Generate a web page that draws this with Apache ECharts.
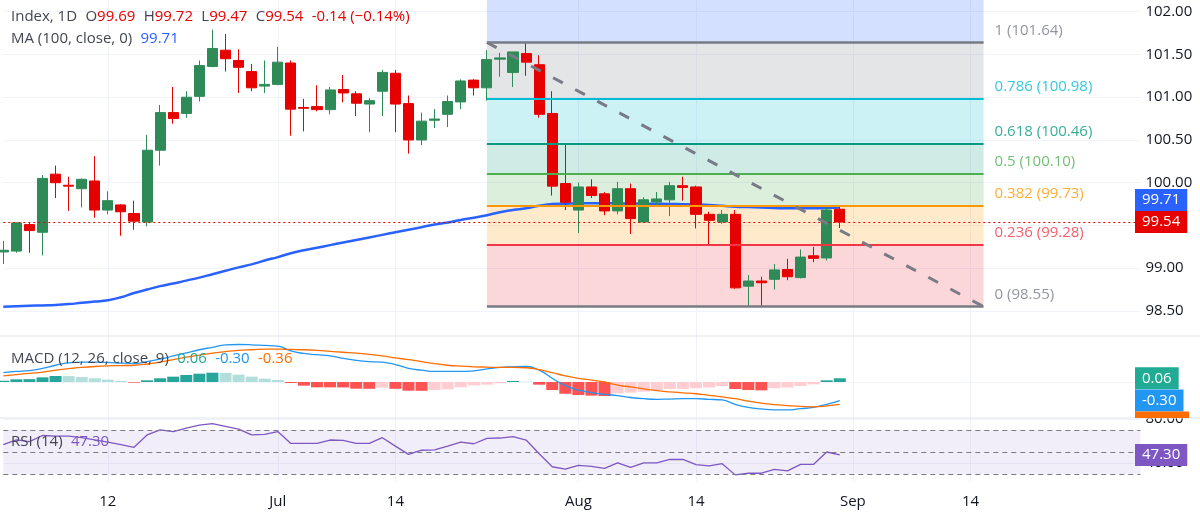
<!DOCTYPE html>
<html>
<head>
<meta charset="utf-8">
<title>Index, 1D</title>
<script src="https://cdn.jsdelivr.net/npm/echarts@6.0.0/dist/echarts.min.js"></script>
<style>
  html, body { margin: 0; padding: 0; background: #fff; }
  #chart { width: 1200px; height: 519px; }
</style>
</head>
<body>
<div id="chart"></div>
<script>
// Daily candles (one entry per bar, oldest first)
const opens = [99.19, 99.20, 99.51, 99.42, 100.10, 99.97, 99.93, 100.02, 99.68, 99.74,
  99.64, 99.54, 100.38, 100.82, 100.81, 101.01, 101.36, 101.55, 101.43, 101.30,
  101.13, 101.15, 101.40, 100.88, 100.89, 100.855, 101.09, 101.04, 100.92, 101.07,
  101.28, 100.925, 100.50, 100.73, 100.80, 100.945, 101.20, 101.11, 101.445, 101.29,
  101.51, 101.38, 100.81, 99.99, 99.68, 99.95, 99.87, 99.67, 99.93, 99.54,
  99.775, 99.80, 99.965, 99.95, 99.63, 99.54, 99.63, 98.79, 98.85, 98.87,
  98.985, 98.89, 99.145, 99.12, 99.69];
const closes = [99.21, 99.53, 99.44, 100.05, 100.00, 99.96, 100.04, 99.68, 99.79, 99.66,
  99.55, 100.38, 100.82, 100.75, 101.00, 101.37, 101.57, 101.45, 101.35, 101.11,
  101.15, 101.41, 100.86, 100.87, 100.855, 101.085, 101.05, 100.93, 100.96, 101.29,
  100.92, 100.50, 100.72, 100.745, 100.95, 101.19, 101.11, 101.44, 101.46, 101.53,
  101.41, 100.80, 99.96, 99.77, 99.95, 99.85, 99.67, 99.93, 99.58, 99.80,
  99.81, 99.965, 99.945, 99.63, 99.56, 99.63, 98.77, 98.85, 98.83, 98.98,
  98.90, 99.13, 99.115, 99.68, 99.54];
const lows = [99.05, 99.18, 99.18, 99.15, 99.82, 99.67, 99.71, 99.59, 99.63, 99.38,
  99.45, 99.49, 100.20, 100.69, 100.76, 100.95, 101.35, 101.30, 101.05, 101.07,
  101.05, 101.14, 100.55, 100.60, 100.835, 100.80, 100.94, 100.78, 100.59, 100.78,
  100.59, 100.34, 100.44, 100.64, 100.65, 100.86, 101.02, 100.96, 101.24, 101.12,
  101.25, 100.76, 99.85, 99.68, 99.41, 99.82, 99.62, 99.63, 99.40, 99.54,
  99.72, 99.61, 99.79, 99.465, 99.28, 99.52, 98.76, 98.55, 98.55, 98.75,
  98.86, 98.88, 99.07, 99.09, 99.47];
const highs = [99.32, 99.54, 99.54, 100.09, 100.20, 100.07, 100.05, 100.31, 99.90, 99.75,
  99.79, 100.56, 100.91, 101.12, 101.07, 101.43, 101.79, 101.74, 101.56, 101.39,
  101.43, 101.59, 101.43, 100.98, 101.14, 101.12, 101.26, 101.07, 100.99, 101.32,
  101.32, 101.02, 100.82, 100.86, 101.02, 101.21, 101.21, 101.55, 101.52, 101.53,
  101.64, 101.49, 101.07, 100.445, 100.00, 100.04, 99.89, 100.01, 99.99, 99.83,
  99.89, 100.01, 100.07, 99.965, 99.66, 99.68, 99.68, 98.92, 98.90, 99.05,
  99.11, 99.22, 99.25, 99.72, 99.72];
const ma100 = [98.55, 98.555, 98.56, 98.565, 98.57, 98.58, 98.595, 98.61, 98.625, 98.66,
  98.71, 98.75, 98.79, 98.82, 98.855, 98.89, 98.93, 98.97, 99.01, 99.045,
  99.09, 99.13, 99.175, 99.21, 99.24, 99.27, 99.30, 99.33, 99.36, 99.39,
  99.42, 99.45, 99.48, 99.51, 99.535, 99.565, 99.59, 99.62, 99.655, 99.68,
  99.70, 99.73, 99.75, 99.755, 99.76, 99.76, 99.76, 99.758, 99.757, 99.755,
  99.754, 99.752, 99.748, 99.745, 99.74, 99.73, 99.72, 99.715, 99.71, 99.705,
  99.70, 99.70, 99.70, 99.705, 99.71];

// MACD (12, 26, close, 9)
const macdLine = [0.15, 0.17, 0.185, 0.22, 0.27, 0.31, 0.32, 0.32, 0.315, 0.305,
  0.30, 0.33, 0.37, 0.42, 0.47, 0.52, 0.56, 0.60, 0.605, 0.60,
  0.59, 0.58, 0.50, 0.46, 0.44, 0.42, 0.38, 0.35, 0.33, 0.32,
  0.28, 0.22, 0.19, 0.17, 0.17, 0.17, 0.18, 0.21, 0.235, 0.245,
  0.25, 0.19, 0.06, -0.06, -0.13, -0.17, -0.20, -0.22, -0.25, -0.27,
  -0.28, -0.275, -0.27, -0.27, -0.28, -0.29, -0.36, -0.41, -0.435, -0.45,
  -0.45, -0.43, -0.41, -0.36, -0.30];
const signalLine = [0.10, 0.12, 0.14, 0.16, 0.19, 0.215, 0.235, 0.25, 0.26, 0.265,
  0.27, 0.29, 0.32, 0.36, 0.40, 0.435, 0.465, 0.49, 0.51, 0.52,
  0.53, 0.53, 0.525, 0.52, 0.51, 0.495, 0.48, 0.465, 0.445, 0.42,
  0.39, 0.36, 0.33, 0.295, 0.27, 0.255, 0.245, 0.24, 0.235, 0.235,
  0.23, 0.20, 0.15, 0.10, 0.06, 0.03, 0.0, -0.05, -0.08, -0.11,
  -0.14, -0.16, -0.175, -0.19, -0.215, -0.24, -0.27, -0.31, -0.34, -0.365,
  -0.38, -0.395, -0.40, -0.385, -0.36];
const macdHist = [0.02, 0.043, 0.046, 0.075, 0.097, 0.095, 0.08, 0.06, 0.038, 0.016,
  -0.011, 0.027, 0.06, 0.086, 0.113, 0.134, 0.15, 0.148, 0.118, 0.086,
  0.054, 0.032, -0.016, -0.059, -0.086, -0.087, -0.088, -0.108, -0.11, -0.092,
  -0.11, -0.14, -0.142, -0.13, -0.118, -0.086, -0.054, -0.043, -0.02, 0.016,
  0.005, -0.043, -0.13, -0.19, -0.21, -0.22, -0.226, -0.183, -0.172, -0.156,
  -0.13, -0.113, -0.112, -0.10, -0.09, -0.065, -0.113, -0.13, -0.135, -0.10,
  -0.09, -0.065, -0.038, 0.027, 0.06];

// RSI (14)
const rsi14 = [56.8, 61, 59.5, 65, 64.5, 64.5, 63, 61, 59, 56.8,
  54.3, 65.5, 70.2, 68.6, 71.7, 74.5, 75.8, 73.3, 70.8, 65.5,
  66.1, 68.6, 57.8, 57.8, 57.8, 60.9, 60.6, 57.8, 57.8, 63,
  55.3, 47.8, 51.6, 51.9, 55.3, 59, 57.5, 62.4, 62.7, 64,
  60.9, 48.4, 36.6, 34.5, 37.9, 37, 35.1, 40.1, 36, 40.1,
  40.1, 43.2, 43.2, 38.5, 37.3, 39.4, 29.2, 30.7, 30.7, 34.2,
  32.9, 38.8, 38.8, 50, 47.3];

// Fibonacci retracement drawn from the swing high to the swing low
const fibLevels = [1, 0.786, 0.618, 0.5, 0.382, 0.236, 0];
const fibPrices = [101.64, 100.98, 100.46, 100.10, 99.73, 99.28, 98.55];
const fibColors = ['#787b86', '#00bcd4', '#089981', '#4caf50', '#ff9800', '#f23645', '#787b86'];
const fibFills = ['rgba(120,123,134,0.2)', 'rgba(0,188,212,0.2)', 'rgba(8,153,129,0.2)',
  'rgba(76,175,80,0.2)', 'rgba(255,152,0,0.2)', 'rgba(242,54,69,0.2)'];
const fibTopFill = 'rgba(41,98,255,0.2)';
const fibStart = 37;
const fibEnd = 75;

const priceTicks = [98.5, 99, 99.5, 100, 100.5, 101, 101.5, 102];
const rsiTicks = [40, 80];
const rsiBands = [70, 50, 30];
const dateTickIdx = [8, 21, 30, 44, 53, 65, 74];
const dateTickLabels = ['12', 'Jul', '14', 'Aug', '14', 'Sep', '14'];
const barCount = 88;

const priceMin = 98.207, priceMax = 102.137;
const macdMin = -0.581, macdMax = 0.742;
const rsiMin = 22.73, rsiMax = 80.9;

const FONT = '"Open Sans", sans-serif';
const GREEN = '#2e8b57';
const RED = '#e60000';
const GRID = '#f0f3fa';
const TEXT = '#131722';
const LEGEND = '#434651';

const last = opens.length - 1;
const cats = Array.from({ length: barCount }, (_, i) => String(i));
const candles = opens.map((o, i) => [o, closes[i], lows[i], highs[i]]);
const change = closes[last] - closes[last - 1];
const changePct = change / closes[last - 1] * 100;

const histColor = (v, i) => {
  const prev = i > 0 ? macdHist[i - 1] : v;
  if (v >= 0) return v >= prev ? '#26a69a' : '#b2dfdb';
  return v < prev ? '#ff5252' : '#ffcdd2';
};

const gridX = { left: 3.3, width: 1137.1 };
const xAxisBase = (gridIndex, showLabels) => ({
  type: 'category', gridIndex, data: cats, boundaryGap: false,
  axisLine: { show: false }, axisTick: { show: false },
  axisLabel: {
    show: showLabels, interval: (i) => dateTickIdx.includes(i), margin: 12,
    color: TEXT, fontSize: 15, fontFamily: FONT,
    formatter: (v, i) => dateTickLabels[dateTickIdx.indexOf(i)] || ''
  },
  splitLine: { show: true, interval: (i) => dateTickIdx.includes(i), lineStyle: { color: GRID, width: 1 } }
});

const fibAreas = [[{ xAxis: fibStart, yAxis: fibPrices[0], itemStyle: { color: fibTopFill } },
  { xAxis: fibEnd, yAxis: priceMax }]];
fibFills.forEach((c, k) => {
  fibAreas.push([{ xAxis: fibStart, yAxis: fibPrices[k], itemStyle: { color: c } },
    { xAxis: fibEnd, yAxis: fibPrices[k + 1] }]);
});

const fibLines = fibPrices.map((p, k) => [
  { coord: [fibStart, p], lineStyle: { color: fibColors[k], width: (k === 0 || k === 6) ? 2.5 : 2, type: 'solid' } },
  { coord: [fibEnd, p] }
]);

const rich = (color) => ({ color, fontSize: 15, fontFamily: FONT, fontWeight: 'normal' });
const legendRich = {
  n: rich(LEGEND), r: rich(RED), b: rich('#2962ff'), t: rich('#22ab94'),
  m: rich('#2196f3'), o: rich('#ff6d00'), p: rich('#7e57c2')
};
const legendStyle = { fontWeight: 'normal', fontSize: 15, rich: legendRich };
const fmt = (v) => v.toFixed(2);
const signed = (v) => (v < 0 ? '-' : '') + Math.abs(v).toFixed(2);

const chart = echarts.init(document.getElementById('chart'));
chart.setOption({
  animation: false,
  backgroundColor: '#fff',
  title: [
    { left: 6, top: 4, textStyle: legendStyle,
      text: `{n|Index, 1D}  {n|O}{r|${fmt(opens[last])}}  {n|H}{r|${fmt(highs[last])}}  {n|L}{r|${fmt(lows[last])}}  {n|C}{r|${fmt(closes[last])}}  {r|${signed(change)} (\u2212${Math.abs(changePct).toFixed(2)}%)}` },
    { left: 6, top: 26, textStyle: legendStyle,
      text: `{n|MA (100, close, 0)}  {b|${fmt(ma100[last])}}` },
    { left: 6, top: 346, textStyle: legendStyle,
      text: `{n|MACD (12, 26, close, 9)}  {t|${fmt(macdHist[last])}}  {m|${signed(macdLine[last])}}  {o|${signed(signalLine[last])}}` },
    { left: 6, top: 429, textStyle: legendStyle,
      text: `{n|RSI (14)}  {p|${fmt(rsi14[last])}}` }
  ],
  grid: [
    Object.assign({ top: 0, height: 336 }, gridX),
    Object.assign({ top: 336, height: 82 }, gridX),
    Object.assign({ top: 418, height: 64 }, gridX)
  ],
  xAxis: [xAxisBase(0, false), xAxisBase(1, false), xAxisBase(2, true)],
  yAxis: [
    { type: 'value', gridIndex: 0, position: 'right', min: priceMin, max: priceMax, scale: true,
      axisLine: { show: false },
      axisTick: { show: false, customValues: priceTicks },
      axisLabel: { customValues: priceTicks, formatter: (v) => v.toFixed(2), margin: 5,
        color: TEXT, fontSize: 15, fontFamily: FONT },
      splitLine: { show: true, lineStyle: { color: GRID } } },
    { type: 'value', gridIndex: 1, position: 'right', min: macdMin, max: macdMax,
      axisLine: { show: false },
      axisTick: { show: false, customValues: [0] },
      axisLabel: { show: false, customValues: [0] },
      splitLine: { show: true, lineStyle: { color: GRID } } },
    { type: 'value', gridIndex: 2, position: 'right', min: rsiMin, max: rsiMax,
      axisLine: { show: false },
      axisTick: { show: false, customValues: rsiTicks },
      axisLabel: { customValues: rsiTicks, formatter: (v) => v.toFixed(2), margin: 5,
        color: TEXT, fontSize: 15, fontFamily: FONT },
      splitLine: { show: true, lineStyle: { color: GRID } } }
  ],
  series: [
    { // fib fills and level lines
      type: 'line', xAxisIndex: 0, yAxisIndex: 0, data: [], z: 1, silent: true,
      markArea: { silent: true, data: fibAreas },
      markLine: { silent: true, symbol: ['none', 'none'], label: { show: false }, data: fibLines }
    },
    { name: 'MA', type: 'line', xAxisIndex: 0, yAxisIndex: 0, data: ma100, z: 2,
      showSymbol: false, smooth: true, lineStyle: { color: '#2962ff', width: 2.5 } },
    { name: 'Index', type: 'candlestick', xAxisIndex: 0, yAxisIndex: 0, data: candles, z: 3,
      barWidth: 10.6, clip: false,
      itemStyle: { color: GREEN, color0: RED, borderColor: GREEN, borderColor0: RED, borderWidth: 1 },
      markLine: { silent: true, symbol: ['none', 'none'], label: { show: false },
        data: [{ yAxis: closes[last], lineStyle: { color: RED, type: [2, 3], width: 1 } }] } },
    { // trend line across the fib
      type: 'line', xAxisIndex: 0, yAxisIndex: 0, data: [], z: 4, silent: true,
      markLine: { silent: true, symbol: ['none', 'none'], label: { show: false },
        data: [[{ coord: [fibStart, fibPrices[0]], lineStyle: { color: '#787b86', width: 3, type: [11, 14] } },
          { coord: [fibEnd, fibPrices[fibPrices.length - 1]] }]] } },
    { // fib level labels
      type: 'scatter', xAxisIndex: 0, yAxisIndex: 0, symbolSize: 0, z: 5, silent: true,
      data: fibPrices.map((p, k) => ({
        value: [fibEnd, p],
        label: { show: true, position: 'right', distance: 11, offset: [0, -12],
          color: fibColors[k], fontSize: 15, fontFamily: FONT,
          formatter: `${fibLevels[k]} (${fmt(p)})` }
      })) },
    { name: 'Histogram', type: 'bar', xAxisIndex: 1, yAxisIndex: 1, barWidth: 12, clip: false,
      data: macdHist.map((v, i) => ({ value: v, itemStyle: { color: histColor(v, i) } })) },
    { name: 'MACD', type: 'line', xAxisIndex: 1, yAxisIndex: 1, data: macdLine, showSymbol: false,
      smooth: true, lineStyle: { color: '#2196f3', width: 1.3 } },
    { name: 'Signal', type: 'line', xAxisIndex: 1, yAxisIndex: 1, data: signalLine, showSymbol: false,
      smooth: true, lineStyle: { color: '#ff6d00', width: 1.3 } },
    { name: 'RSI', type: 'line', xAxisIndex: 2, yAxisIndex: 2, data: rsi14, showSymbol: false,
      lineStyle: { color: '#7e57c2', width: 1.3 },
      markArea: { silent: true, itemStyle: { color: 'rgba(126,87,194,0.1)' },
        data: [[{ yAxis: rsiBands[0] }, { yAxis: rsiBands[2] }]] },
      markLine: { silent: true, symbol: ['none', 'none'], label: { show: false },
        lineStyle: { color: '#787b86', type: [5, 4], width: 1 },
        data: rsiBands.map((v) => ({ yAxis: v })) } }
  ]
});

// price / indicator tags on the right scale
const py = (axis, v) => chart.convertToPixel({ yAxisIndex: axis }, v);
const tag = (y, text, bg) => ({
  type: 'text', x: 1135, y, z: 100,
  style: { text, fill: '#fff', backgroundColor: bg, padding: [2, 7, 2, 7], lineHeight: 18,
    font: '15px ' + FONT, verticalAlign: 'middle', align: 'left' }
});
const redY = py(0, closes[last]);
const blueY = Math.min(py(0, ma100[last]), redY - 22);
const histY = py(1, macdHist[last]);
const macdY = Math.max(py(1, macdLine[last]), histY + 22);
const sigTop = macdY + 11;
const rsiY = py(2, rsi14[last]);

chart.setOption({
  graphic: [
    { type: 'line', z: 90, shape: { x1: 0, y1: 336, x2: 1200, y2: 336 }, style: { stroke: '#e0e3eb', lineWidth: 1 } },
    { type: 'line', z: 90, shape: { x1: 0, y1: 418, x2: 1200, y2: 418 }, style: { stroke: '#e0e3eb', lineWidth: 1 } },
    tag(blueY, fmt(ma100[last]), '#2962ff'),
    tag(redY, fmt(closes[last]), RED),
    tag(histY, fmt(macdHist[last]), '#22ab94'),
    tag(macdY, signed(macdLine[last]), '#2196f3'),
    { type: 'rect', z: 100, shape: { x: 1135, y: sigTop, width: 54, height: Math.max(0, 418 - sigTop) },
      style: { fill: '#ff6d00' } },
    tag(rsiY, fmt(rsi14[last]), '#7e57c2')
  ]
});
</script>
</body>
</html>
